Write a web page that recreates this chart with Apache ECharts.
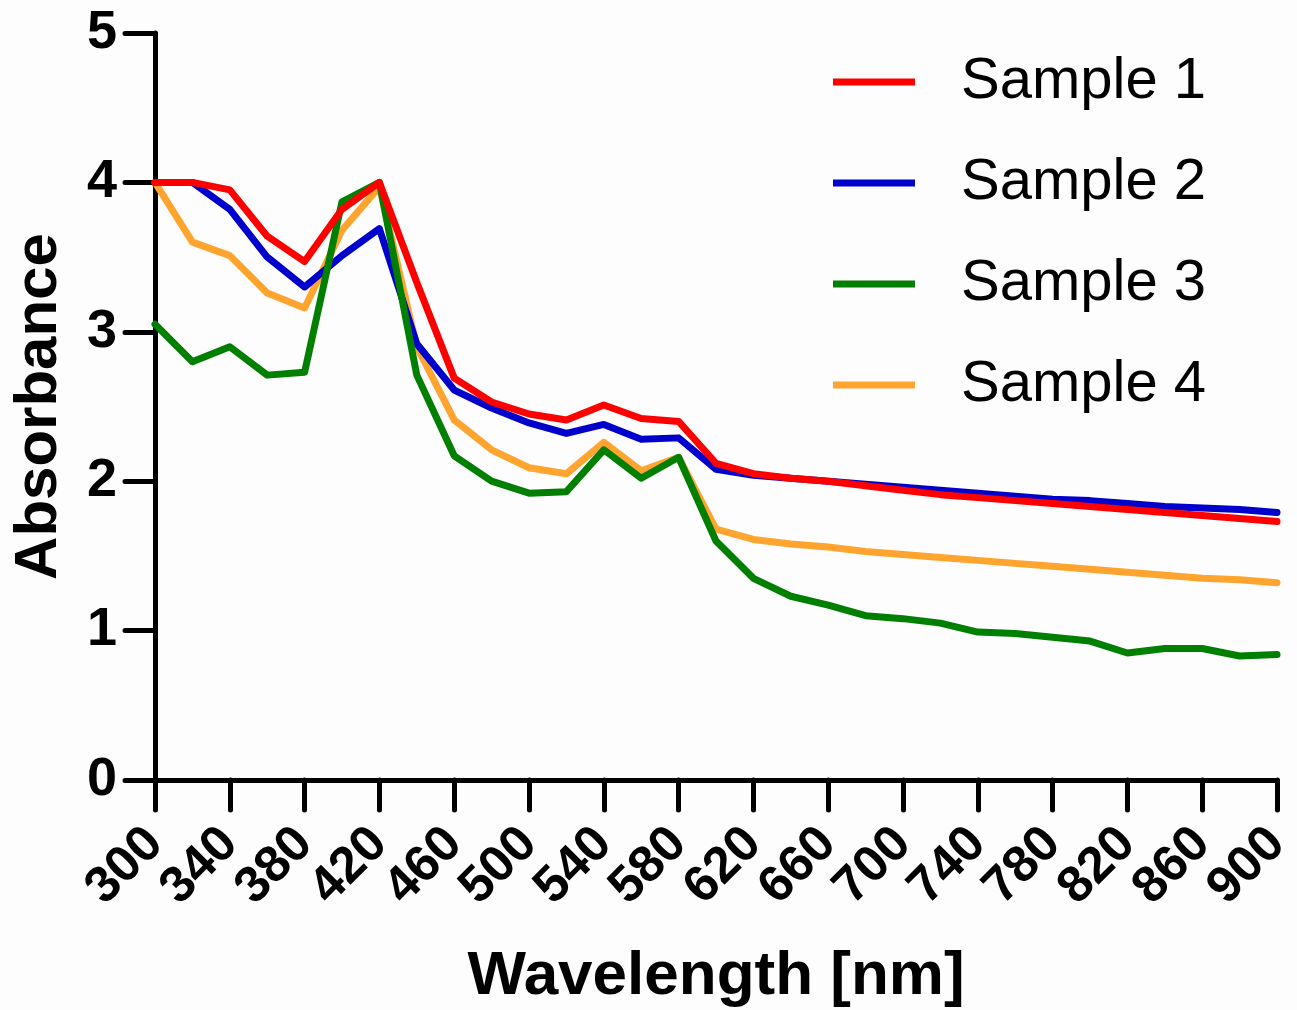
<!DOCTYPE html>
<html>
<head>
<meta charset="utf-8">
<script src="https://cdn.jsdelivr.net/npm/echarts@6/dist/echarts.min.js"></script>
<style>
html,body{margin:0;padding:0;background:#fdfdfd;}
#chart{width:1297px;height:1010px;}
</style>
</head>
<body>
<div id="chart"></div>
<script>
const wavelengths = [300,320,340,360,380,400,420,440,460,480,500,520,540,560,580,600,620,640,660,680,700,720,740,760,780,800,820,840,860,880,900];
const sample1 = [4.00,4.00,3.95,3.64,3.47,3.82,4.00,3.33,2.69,2.53,2.45,2.41,2.51,2.42,2.40,2.12,2.05,2.02,2.00,1.97,1.94,1.91,1.89,1.87,1.85,1.83,1.81,1.79,1.77,1.75,1.73];
const sample2 = [4.00,4.00,3.82,3.50,3.30,3.51,3.69,2.92,2.61,2.49,2.39,2.32,2.38,2.28,2.29,2.08,2.04,2.02,2.00,1.98,1.96,1.94,1.92,1.90,1.88,1.87,1.85,1.83,1.82,1.81,1.79];
const sample3 = [3.05,2.80,2.90,2.71,2.73,3.87,4.00,2.71,2.17,2.00,1.92,1.93,2.21,2.02,2.16,1.60,1.35,1.23,1.17,1.10,1.08,1.05,0.99,0.98,0.955,0.93,0.85,0.88,0.88,0.83,0.84];
const sample4 = [4.00,3.60,3.51,3.26,3.16,3.68,3.97,2.90,2.41,2.21,2.09,2.05,2.26,2.07,2.16,1.68,1.61,1.58,1.56,1.53,1.51,1.49,1.47,1.45,1.43,1.41,1.39,1.37,1.35,1.34,1.32];
const seriesNames = ['Sample 1','Sample 2','Sample 3','Sample 4'];
const seriesColors = ['#FF0000','#0000CC','#007F00','#FFA52F'];
const seriesValues = [sample1, sample2, sample3, sample4];
const seriesZ = [5, 3, 4, 2];

const FONT = '"Liberation Sans", Arial, Helvetica, sans-serif';
const chart = echarts.init(document.getElementById('chart'), null, {renderer:'canvas'});

const series = seriesNames.map((name, i) => ({
  name: name,
  type: 'line',
  data: wavelengths.map((w, j) => [w, seriesValues[i][j]]),
  showSymbol: false,
  symbol: 'none',
  z: seriesZ[i],
  lineStyle: {color: seriesColors[i], width: 7, join: 'round', cap: 'round'},
  itemStyle: {color: seriesColors[i]},
  emphasis: {disabled: true},
  animation: false
}));

chart.setOption({
  backgroundColor: '#fdfdfd',
  animation: false,
  grid: {left: 155, right: 20, top: 33, bottom: 230, containLabel: false, outerBoundsMode: 'none'},
  legend: {
    orient: 'vertical',
    left: 828,
    top: 47,
    itemWidth: 82,
    itemHeight: 7,
    itemGap: 41,
    icon: 'rect',
    data: seriesNames,
    textStyle: {fontFamily: FONT, fontSize: 58, color: '#000', lineHeight: 60, padding: [0,0,0,41]}
  },
  xAxis: {
    type: 'value',
    min: 300, max: 900, interval: 40,
    name: 'Wavelength [nm]',
    nameLocation: 'middle',
    nameGap: 166,
    nameTextStyle: {fontFamily: FONT, fontSize: 62, fontWeight: 'bold', color: '#000'},
    axisLine: {show: true, onZero: false, lineStyle: {color: '#000', width: 5, cap: 'round'}},
    axisTick: {show: true, length: 30, lineStyle: {color: '#000', width: 5, cap: 'round'}},
    axisLabel: {rotate: 45, margin: 56, fontFamily: FONT, fontSize: 51, fontWeight: 'bold', color: '#000'},
    splitLine: {show: false}
  },
  yAxis: {
    type: 'value',
    min: 0, max: 5, interval: 1,
    name: 'Absorbance',
    nameLocation: 'middle',
    nameGap: 86,
    nameTextStyle: {fontFamily: FONT, fontSize: 60, fontWeight: 'bold', color: '#000'},
    axisLine: {show: true, lineStyle: {color: '#000', width: 5, cap: 'round'}},
    axisTick: {show: true, length: 30, lineStyle: {color: '#000', width: 5, cap: 'round'}},
    axisLabel: {margin: 38, fontFamily: FONT, fontSize: 54, fontWeight: 'bold', color: '#000'},
    splitLine: {show: false}
  },
  series: series
});
</script>
</body>
</html>
